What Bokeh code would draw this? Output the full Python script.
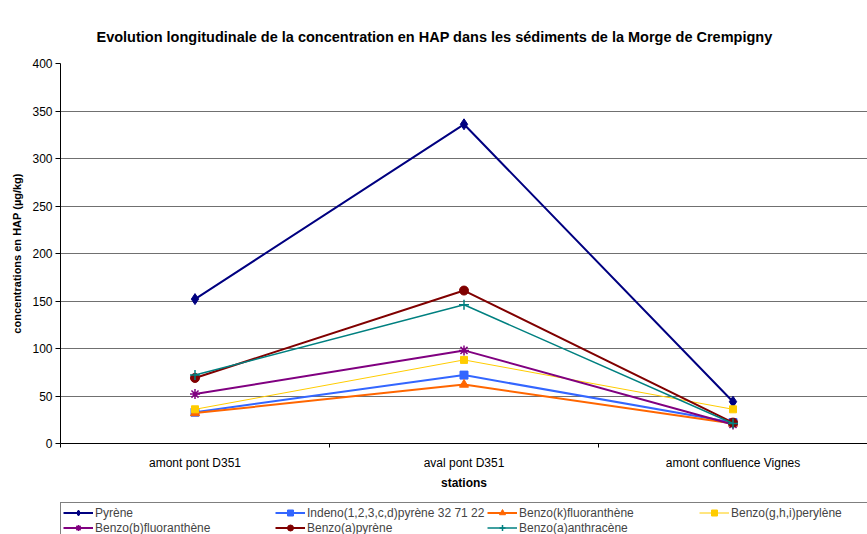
from bokeh.plotting import figure
from bokeh.models import Range1d, FixedTicker, Legend, LegendItem
from bokeh.layouts import column
from bokeh.embed import file_html
from bokeh.resources import INLINE

stations = ["amont pont D351", "aval pont D351", "amont confluence Vignes"]
y_ticks = [0, 50, 100, 150, 200, 250, 300, 350, 400]

pyrene = [152, 336, 44]
indeno = [33, 72, 22]
benzo_k = [32, 62, 21]
benzo_ghi = [36, 88, 36]
benzo_b = [52, 98, 20]
benzo_a_pyrene = [69, 161, 22]
benzo_a_anthracene = [72, 146, 21]

series = [
    ("Pyrène", pyrene, "#000080", 2, "diamond", 11),
    ("Indeno(1,2,3,c,d)pyrène 32 71 22", indeno, "#3366FF", 2, "square", 8),
    ("Benzo(k)fluoranthène", benzo_k, "#FF6600", 2, "triangle", 9),
    ("Benzo(g,h,i)perylène", benzo_ghi, "#FFCC00", 1, "square", 7),
    ("Benzo(b)fluoranthène", benzo_b, "#800080", 2, "asterisk", 10),
    ("Benzo(a)pyrène", benzo_a_pyrene, "#800000", 2, "circle", 9),
    ("Benzo(a)anthracène", benzo_a_anthracene, "#008080", 1.5, "cross", 10),
]

FONT = "Liberation Sans"
W = 867
H_MAIN, H_LEG = 496, 38
LEFT = 60

p = figure(width=W, height=H_MAIN, output_backend="svg", toolbar_location=None,
           x_range=Range1d(0, len(stations)), y_range=Range1d(y_ticks[0], y_ticks[-1]),
           min_border_left=LEFT, min_border_right=0, min_border_top=63, min_border_bottom=53)
p.outline_line_color = None
p.background_fill_color = "white"

p.title.text = "Evolution longitudinale de la concentration en HAP dans les sédiments de la Morge de Crempigny"
p.title.text_font = FONT
p.title.text_font_size = "14.5px"
p.title.text_font_style = "bold"
p.title.text_color = "black"
p.title.align = "left"
p.title.offset = 36
p.title.standoff = 38

xs = [i + 0.5 for i in range(len(stations))]


def style(mk, col, sz):
    kw = dict(marker=mk, size=sz, line_color=col, fill_color=col)
    if mk in ("asterisk", "cross"):
        kw["line_width"] = 1.5
    return kw


for name, vals, col, lw, mk, sz in series:
    p.line(xs, vals, line_color=col, line_width=lw)
    p.scatter(xs, vals, **style(mk, col, sz))

# x axis
p.xaxis.ticker = FixedTicker(ticks=xs, minor_ticks=list(range(len(stations) + 1)))
p.xaxis.major_label_overrides = {x: s for x, s in zip(xs, stations)}
p.xaxis.major_tick_line_color = None
p.xaxis.minor_tick_in = 0
p.xaxis.minor_tick_out = 4
p.xaxis.minor_tick_line_color = "black"
p.xaxis.axis_line_color = "black"
p.xaxis.major_label_text_font = FONT
p.xaxis.major_label_text_font_size = "12px"
p.xaxis.major_label_text_color = "black"
p.xaxis.major_label_standoff = 6
p.xaxis.axis_label = "stations"
p.xaxis.axis_label_text_font = FONT
p.xaxis.axis_label_text_font_size = "12px"
p.xaxis.axis_label_text_font_style = "bold"
p.xaxis.axis_label_text_color = "black"
p.xaxis.axis_label_standoff = 3
p.xgrid.grid_line_color = None

# y axis
p.yaxis.ticker = FixedTicker(ticks=y_ticks)
p.yaxis.minor_tick_line_color = None
p.yaxis.major_tick_in = 0
p.yaxis.major_tick_out = 5
p.yaxis.major_tick_line_color = "black"
p.yaxis.axis_line_color = "black"
p.yaxis.major_label_text_font = FONT
p.yaxis.major_label_text_font_size = "12px"
p.yaxis.major_label_text_color = "black"
p.yaxis.major_label_standoff = 3
p.yaxis.axis_label = "concentrations en HAP (µg/kg)"
p.yaxis.axis_label_text_font = FONT
p.yaxis.axis_label_text_font_size = "11px"
p.yaxis.axis_label_text_font_style = "bold"
p.yaxis.axis_label_text_color = "black"
p.yaxis.axis_label_standoff = 6
p.ygrid.grid_line_color = "#707070"
p.ygrid.grid_line_width = 1

# legend strip (series drawn off-range so only legend glyphs show)
p2 = figure(width=W, height=H_LEG, output_backend="svg", toolbar_location=None,
            x_axis_location=None, y_axis_location=None,
            x_range=Range1d(0, 0.1), y_range=Range1d(0, 1),
            min_border=0)
p2.outline_line_color = None
p2.xgrid.visible = False
p2.ygrid.visible = False

items = []
for name, vals, col, lw, mk, sz in series:
    r1 = p2.line(xs, vals, line_color=col, line_width=lw)
    r2 = p2.scatter(xs, vals, **style(mk, col, sz))
    items.append(LegendItem(label=name, renderers=[r1, r2]))

legend = Legend(items=items, location=(0, -4), orientation="horizontal", ncols=4,
                label_text_font=FONT, label_text_font_size="12px",
                label_height=15, glyph_height=15, glyph_width=30, label_width=180,
                label_standoff=2, spacing=0, padding=2, margin=0,
                border_line_color="black", border_line_width=1,
                background_fill_color="white", background_fill_alpha=1)
p2.add_layout(legend, "center")

layout = column(p, p2, spacing=0)
open("out.html", "w").write(file_html(layout, INLINE))
